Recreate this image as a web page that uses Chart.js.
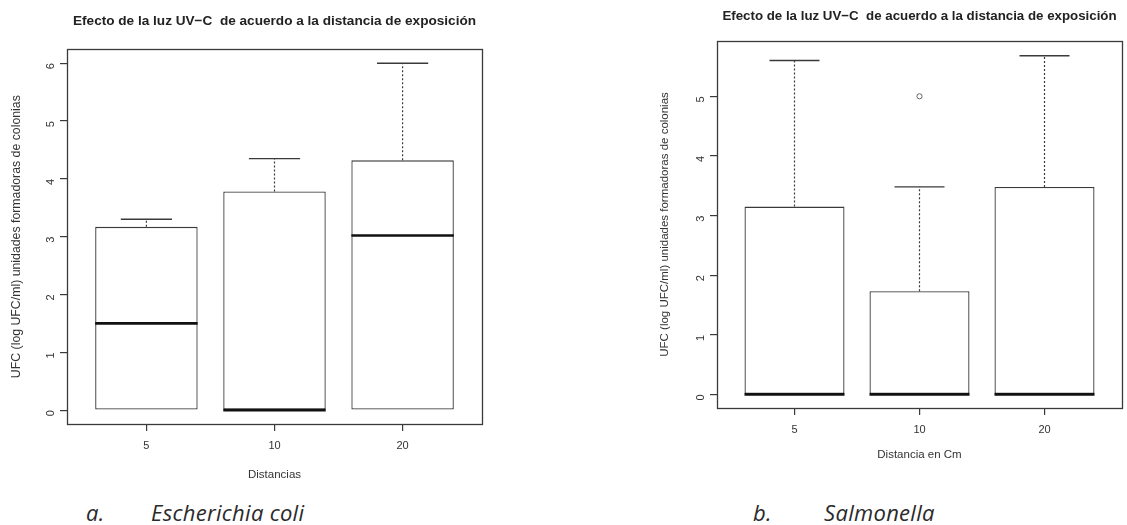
<!DOCTYPE html>
<html>
<head>
<meta charset="utf-8">
<script src="https://cdn.jsdelivr.net/npm/chart.js@4.4.1/dist/chart.umd.min.js"></script>
<style>
  html, body { margin: 0; padding: 0; background: #ffffff; }
  body { width: 1127px; height: 525px; position: relative; overflow: hidden; }
  .wrap { position: absolute; }
  #w1 { left: 0px; top: 0px; width: 560px; height: 487px; }
  #w2 { left: 640px; top: 0px; width: 487px; height: 470px; }
  .cap { position: absolute; font-family: "Open Sans", "Lato", sans-serif; font-style: italic; font-size: 22px; letter-spacing: 0.3px; color: #2a2a2a; top: 497px; white-space: nowrap; }
</style>
</head>
<body>
<div class="wrap" id="w1"><canvas id="c1"></canvas></div>
<div class="wrap" id="w2"><canvas id="c2"></canvas></div>
<div class="cap" style="left:86px;">a.</div>
<div class="cap" style="left:151px;">Escherichia coli</div>
<div class="cap" style="left:753px;">b.</div>
<div class="cap" style="left:824px;">Salmonella</div>
<script>
// ---------- data ----------
const categories = ["5", "10", "20"];
const chartTitle = "Efecto de la luz UV\u2212C  de acuerdo a la distancia de exposición";
const yAxisTitle = "UFC (log UFC/ml) unidades formadoras de colonias";

// Escherichia coli
const ecoliMin    = [0, 0, 0];
const ecoliQ1     = [0, 0, 0];
const ecoliMedian = [1.5, 0.0, 3.02];
const ecoliQ3     = [3.17, 3.78, 4.32];
const ecoliMax    = [3.30, 4.35, 6.0];
const ecoliTicks  = [0, 1, 2, 3, 4, 5, 6];

// Salmonella
const salMin      = [0, 0, 0];
const salQ1       = [0, 0, 0];
const salMedian   = [0, 0, 0];
const salQ3       = [3.15, 1.73, 3.48];
const salMax      = [5.60, 3.48, 5.68];
const salOutliers = [[], [5.0], []];
const salTicks    = [0, 1, 2, 3, 4, 5];

// ---------- helpers ----------
const INK = "#3a3a3a";
const FONT = "Liberation Sans, Arial, sans-serif";
const BOX_HALF = 0.4;     // R boxplot width 0.8
const CAP_HALF = 0.2;     // staplewex 0.5

function buildDatasets(q1, med, q3, max, outliers) {
  const ds = [];
  ds.push({
    type: "bar",
    data: categories.map((c, i) => ({ x: i + 1, y: [q1[i], q3[i]] })),
    backgroundColor: "#ffffff",
    borderColor: INK,
    borderWidth: 1.3,
    borderSkipped: false,
    barPercentage: 0.8,
    categoryPercentage: 1.0,
    order: 5
  });
  categories.forEach((c, i) => {
    const x = i + 1;
    ds.push({ type: "line", data: [{ x: x, y: q3[i] }, { x: x, y: max[i] }],
      borderColor: INK, borderWidth: 1.2, borderDash: [2, 2], pointRadius: 0, order: 1 });
    ds.push({ type: "line", data: [{ x: x - CAP_HALF, y: max[i] }, { x: x + CAP_HALF, y: max[i] }],
      borderColor: INK, borderWidth: 1.4, pointRadius: 0, order: 1 });
    ds.push({ type: "line", data: [{ x: x - BOX_HALF, y: med[i] }, { x: x + BOX_HALF, y: med[i] }],
      borderColor: "#111111", borderWidth: 2.6, pointRadius: 0, order: 0 });
    if (outliers && outliers[i].length) {
      ds.push({ type: "scatter", data: outliers[i].map(v => ({ x: x, y: v })),
        pointRadius: 2.6, pointBorderWidth: 1, pointBorderColor: "#666666",
        pointBackgroundColor: "rgba(0,0,0,0)", showLine: false, order: 0 });
    }
  });
  return ds;
}

const framePlugin = {
  id: "frame",
  afterDraw(chart) {
    const a = chart.chartArea, ctx = chart.ctx;
    ctx.save();
    ctx.strokeStyle = INK;
    ctx.lineWidth = 1.3;
    ctx.strokeRect(Math.round(a.left) + 0.5, Math.round(a.top) + 0.5,
      Math.round(a.right - a.left), Math.round(a.bottom - a.top));
    ctx.restore();
  }
};

function makeChart(id, cfg) {
  return new Chart(document.getElementById(id), {
    data: { datasets: buildDatasets(cfg.q1, cfg.med, cfg.q3, cfg.max, cfg.out) },
    options: {
      responsive: true,
      maintainAspectRatio: false,
      animation: false,
      layout: { padding: { left: cfg.padLeft, right: cfg.padRight, top: 0, bottom: cfg.padBottom } },
      plugins: {
        legend: { display: false },
        tooltip: { enabled: false },
        title: {
          display: true, text: chartTitle, fullSize: false, color: "#222",
          font: { family: FONT, size: cfg.titleSize, weight: "bold" },
          padding: { top: cfg.titleTop, bottom: cfg.titleBottom }
        }
      },
      scales: {
        x: {
          type: "linear", min: 0.38, max: 3.62, offset: false,
          afterBuildTicks: s => { s.ticks = categories.map((c, i) => ({ value: i + 1 })); },
          ticks: { callback: v => categories[Math.round(v) - 1], color: "#333", padding: 8,
            font: { family: FONT, size: 11 }, maxRotation: 0, minRotation: 0 },
          grid: { display: true, offset: false, drawOnChartArea: false, drawTicks: true, tickLength: 7, color: INK, lineWidth: 1.2 },
          border: { display: false },
          title: { display: true, text: cfg.xTitle, color: "#333", padding: { top: cfg.xTitleTop, bottom: 0 },
            font: { family: FONT, size: 11.5 } }
        },
        y: {
          type: "linear", min: cfg.yMin, max: cfg.yMax,
          afterBuildTicks: s => { s.ticks = cfg.ticks.map(v => ({ value: v })); },
          afterFit: s => { s.width = cfg.yWidth; },
          ticks: { color: "#333", padding: 9, minRotation: 90, maxRotation: 90,
            font: { family: FONT, size: 11 } },
          grid: { display: true, drawOnChartArea: false, drawTicks: true, tickLength: 7, color: INK, lineWidth: 1.2 },
          border: { display: false },
          title: { display: true, text: yAxisTitle, color: "#333", padding: { top: 0, bottom: 4 },
            font: { family: FONT, size: cfg.yTitleSize } }
        }
      }
    },
    plugins: [framePlugin]
  });
}

makeChart("c1", {
  q1: ecoliQ1, med: ecoliMedian, q3: ecoliQ3, max: ecoliMax, out: null,
  ticks: ecoliTicks, yMin: -0.24, yMax: 6.24,
  xTitle: "Distancias", padLeft: 9, yWidth: 58, padRight: 78, padBottom: 5,
  titleSize: 13.6, titleTop: 13, titleBottom: 20, xTitleTop: 8, yTitleSize: 12.3
});
makeChart("c2", {
  q1: salQ1, med: salMedian, q3: salQ3, max: salMax, out: salOutliers,
  ticks: salTicks, yMin: -0.228, yMax: 5.928,
  xTitle: "Distancia en Cm", padLeft: 18, yWidth: 59, padRight: 4, padBottom: 8,
  titleSize: 13.3, titleTop: 8, titleBottom: 17, xTitleTop: 4, yTitleSize: 11.5
});
</script>
</body>
</html>
